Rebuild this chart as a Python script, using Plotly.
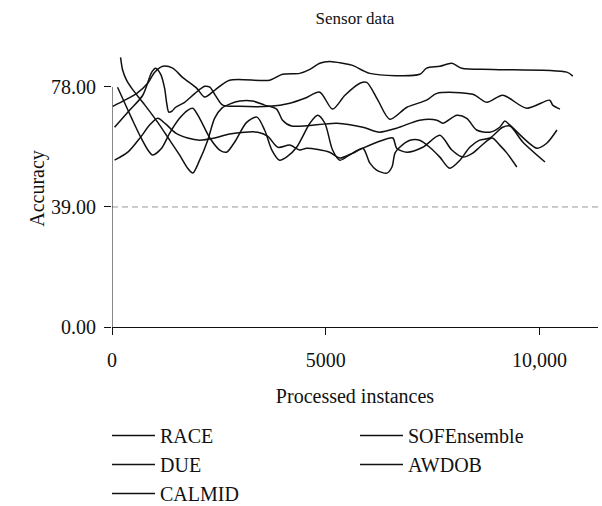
import plotly.graph_objects as go

# ---- data (instances, accuracy) ----
race_x = [20, 300, 580, 835, 1000, 1190, 1420, 1650, 1980, 2170, 2400, 2750, 3690, 3990, 4390, 4630, 4860, 5090, 5400, 5630, 6030, 7200, 7360, 7670, 7950, 8180, 8910, 10640, 10780]
race_y = [71.7, 73.7, 75.9, 79.2, 82.8, 84.7, 84.1, 81.1, 77.6, 74.7, 76.9, 80.2, 80.2, 82.1, 82.4, 83.7, 85.7, 86.3, 85.7, 85.0, 82.4, 82.1, 84.1, 84.7, 85.7, 84.1, 83.7, 82.8, 81.5]

sof_x = [60, 410, 720, 930, 1020, 1140, 1230, 1280, 1330, 1400, 1490, 1700, 1940, 2170, 2290, 2430, 2590, 2990, 3690, 4160, 4510, 4860, 5160, 5450, 5800, 5960, 6220, 6500, 6900, 7360, 7600, 8440, 8770, 9140, 9700, 10240, 10310, 10480]
sof_y = [64.9, 70.4, 75.3, 82.8, 84.1, 82.1, 77.6, 72.7, 69.8, 70.1, 71.4, 73.0, 75.9, 78.2, 77.9, 75.0, 72.1, 71.7, 71.7, 72.7, 74.3, 76.3, 70.8, 75.3, 79.2, 79.5, 73.7, 67.5, 71.4, 73.7, 75.9, 75.6, 73.0, 75.3, 71.1, 73.7, 72.1, 70.8]

due_x = [200, 250, 340, 480, 770, 1070, 1350, 1580, 1770, 1890, 2050, 2240, 2400, 2570, 2750, 2990, 3290, 3570, 3850, 3990, 4200, 5260, 5870, 6260, 6660, 7200, 7600, 7740, 8070, 8300, 8530, 8840, 9070, 9190, 9310, 9940, 10170, 10410]
due_y = [87.6, 83.4, 80.2, 77.2, 72.1, 66.5, 60.7, 55.9, 51.6, 50.0, 54.2, 60.7, 67.8, 71.1, 72.4, 73.4, 73.4, 72.1, 70.8, 67.2, 65.3, 66.2, 64.9, 63.3, 64.6, 67.2, 67.2, 66.2, 68.8, 67.8, 64.0, 63.3, 64.9, 66.9, 65.6, 58.1, 59.7, 64.0]

awdob_x = [130, 300, 480, 670, 840, 950, 1160, 1350, 1580, 1770, 1890, 2050, 2290, 2520, 2680, 2870, 3150, 3390, 3570, 3740, 3920, 4110, 4320, 4630, 4810, 4980, 5160, 5330, 5560, 5870, 6330, 6570, 6660, 6900, 7270, 7670, 7950, 8210, 8440, 8600, 8890, 9070, 9240, 9470]
awdob_y = [77.9, 72.7, 67.2, 61.7, 57.5, 55.9, 58.1, 63.0, 67.8, 70.4, 71.1, 67.8, 61.4, 57.5, 56.8, 60.1, 66.5, 68.2, 64.0, 57.5, 54.2, 55.5, 58.4, 66.2, 68.8, 66.2, 57.5, 54.2, 55.9, 58.1, 60.7, 61.4, 58.1, 56.8, 58.4, 62.3, 57.5, 55.2, 56.5, 58.4, 61.4, 59.1, 56.5, 52.0]

calmid_x = [60, 370, 670, 880, 1070, 1260, 1490, 1770, 2050, 2400, 2750, 3100, 3410, 3640, 3880, 4160, 4390, 4560, 5090, 5330, 5630, 5870, 6030, 6190, 6430, 6550, 6620, 6730, 6970, 7200, 7430, 7670, 7900, 8140, 8370, 8600, 8840, 9140, 9310, 9610, 10130]
calmid_y = [54.2, 56.8, 61.7, 65.6, 67.8, 65.9, 63.0, 61.4, 60.7, 61.4, 62.7, 63.3, 63.3, 62.0, 58.4, 59.1, 57.5, 58.1, 56.8, 54.9, 56.5, 58.1, 53.3, 51.0, 50.0, 52.0, 56.5, 58.4, 60.7, 60.7, 58.4, 55.2, 51.6, 54.2, 58.4, 60.7, 61.4, 64.9, 65.3, 60.1, 53.6]

x_ticks = [0, 5000, 10000]
x_ticktext = ["0", "5000", "10,000"]
y_ticks = [0, 39, 78]
threshold = 39

# (name, x, y, legend column)
series = [
    ("RACE", race_x, race_y, "legend"),
    ("DUE", due_x, due_y, "legend"),
    ("CALMID", calmid_x, calmid_y, "legend"),
    ("SOFEnsemble", sof_x, sof_y, "legend2"),
    ("AWDOB", awdob_x, awdob_y, "legend2"),
]

FONT = "Liberation Serif"
INK = "#111111"
fig = go.Figure()
for name, xs, ys, lg in series:
    fig.add_trace(go.Scatter(
        x=xs, y=ys, name=name, mode="lines", legend=lg,
        line=dict(color=INK, width=1.5, shape="spline", smoothing=0.8),
    ))

W, H = 602, 506
legend_common = dict(orientation="h", xref="container", yref="container",
                     xanchor="left", yanchor="top", itemwidth=43,
                     entrywidthmode="pixels",
                     font=dict(family=FONT, size=20, color=INK),
                     bgcolor="rgba(0,0,0,0)", borderwidth=0, tracegroupgap=0)

fig.update_layout(
    width=W, height=H,
    template="none",
    paper_bgcolor="white", plot_bgcolor="white",
    margin=dict(l=112.3, r=4, t=49.7, b=178.7, pad=0),
    font=dict(family=FONT, size=20, color=INK),
    title=dict(text="Sensor data", x=0.5, xref="paper", xanchor="center",
               y=1 - 18 / H, yref="container", yanchor="middle",
               font=dict(family=FONT, size=17, color=INK)),
    showlegend=True,
    legend=dict(x=107 / W, y=1 - 416 / H, entrywidth=240, **legend_common),
    legend2=dict(x=355 / W, y=1 - 416 / H, entrywidth=200, **legend_common),
    xaxis=dict(range=[0, 11370], showgrid=False, zeroline=False,
               showline=True, linecolor=INK, linewidth=1,
               ticks="outside", ticklen=7, tickcolor=INK, tickwidth=1,
               tickvals=x_ticks, ticktext=x_ticktext, ticklabelstandoff=8,
               tickangle=0,
               title=dict(text="Processed instances", standoff=18,
                          font=dict(family=FONT, size=20))),
    yaxis=dict(range=[0, 90], showgrid=False, zeroline=False,
               showline=False,
               ticks="outside", ticklen=7, tickcolor=INK, tickwidth=1,
               tickvals=y_ticks, tickformat=".2f", ticklabelstandoff=4,
               title=dict(text="Accuracy", standoff=1,
                          font=dict(family=FONT, size=20))),
)

# y axis line only up to the top tick
fig.add_shape(type="line", xref="x", yref="y", x0=0, x1=0, y0=0, y1=y_ticks[-1],
              line=dict(color=INK, width=1), layer="above")
# dashed threshold line
fig.add_shape(type="line", xref="paper", yref="y", x0=0, x1=1, y0=threshold, y1=threshold,
              line=dict(color="#999999", width=1, dash="6px,4px"), layer="below")

fig.write_html("out.html")
